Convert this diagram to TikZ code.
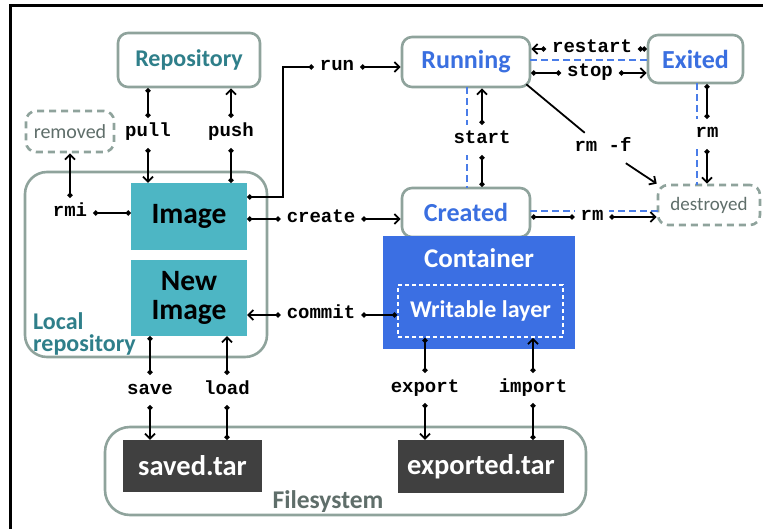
\documentclass[tikz,border=0pt]{standalone}
\usepackage{fontspec}
\setmainfont{Carlito}
\setmonofont{Liberation Mono}
\usetikzlibrary{arrows.meta,calc}
\definecolor{bordergray}{HTML}{8FA39C}
\definecolor{tealtext}{HTML}{2F7F8A}
\definecolor{bluetext}{HTML}{3A6FE0}
\definecolor{imgfill}{HTML}{4DB6C4}
\definecolor{contfill}{HTML}{3B6FE3}
\definecolor{darkbox}{HTML}{404040}
\definecolor{graytext}{HTML}{5F6E6A}
\definecolor{dashblue}{HTML}{4A7DE8}
\newcommand{\fs}[1]{\fontsize{#1}{#1}\selectfont}
\begin{document}
\begin{tikzpicture}[x=1pt,y=-1pt,
  statebox/.style={draw=bordergray,line width=2.6pt,rounded corners=10pt,fill=white,font=\fs{26}\bfseries,text=bluetext},
  gonebox/.style={draw=bordergray,line width=2.6pt,rounded corners=10pt,dash pattern=on 7pt off 5pt,fill=white,text=graytext},
  imgbox/.style={fill=imgfill,font=\fs{29.5}\bfseries,text=black,align=center,inner sep=0pt},
  tarbox/.style={fill=darkbox,font=\fs{28.5}\bfseries,text=white,inner sep=0pt},
  cmd/.style={fill=white,font=\fs{19}\ttfamily\bfseries,inner xsep=6pt,inner ysep=8pt,text height=11pt,text depth=3pt},
  seg/.style={line width=1.8pt,{Circle[length=5pt]}-{Circle[length=5pt]}},
  arr/.style={line width=1.8pt,{Circle[length=5pt]}-{Straight Barb[length=5pt,width=10pt]}},
  plainarr/.style={line width=1.8pt,-{Straight Barb[length=5pt,width=10pt]}},
  bdash/.style={draw=dashblue,line width=2.4pt,dash pattern=on 7pt off 4pt}
]
\useasboundingbox (0,0) rectangle (763,529);
% frame
\draw[line width=3pt] (10,529) -- (10,6) -- (763,6);
% group rectangles
\draw[draw=bordergray,line width=2.6pt,rounded corners=22pt] (25,172) rectangle (267,357);
\draw[draw=bordergray,line width=2.6pt,rounded corners=25pt] (105,427) rectangle (586,515);
\node[anchor=west,align=left,inner sep=0pt,font=\fontsize{24}{22}\selectfont\bfseries,text=tealtext] (localrepo) at (33,334) {Local\\repository};
\node[inner sep=0pt,font=\fs{25.5}\bfseries,text=graytext] (filesystem) at (328,502) {Filesystem};
% main nodes
\node[statebox,font=\fs{24}\bfseries,text=tealtext,minimum width=142pt,minimum height=54pt] (repo) at (189,60) {Repository};
\node[gonebox,font=\fs{20},minimum width=88pt,minimum height=41pt] (removed) at (70,131.5) {removed};
\node[imgbox,minimum width=116pt,minimum height=67pt] (image) at (189,216.5) {Image};
\node[imgbox,minimum width=116pt,minimum height=76pt] (newimage) at (189,298) {New\\[-1pt]Image};
\node[statebox,minimum width=128pt,minimum height=50pt] (running) at (466,62) {Running};
\node[statebox,minimum width=95pt,minimum height=48pt] (exited) at (695.5,59) {Exited};
\node[statebox,minimum width=128pt,minimum height=49pt] (created) at (466,212.5) {Created};
\node[gonebox,font=\fs{19},minimum width=102pt,minimum height=40pt] (destroyed) at (709,205) {destroyed};
\node[fill=contfill,minimum width=192pt,minimum height=113pt] (container) at (479,292.5) {};
\node[font=\fs{27}\bfseries,text=white,inner sep=0pt] (conttitle) at (479,258) {Container};
\node[draw=white,line width=1.8pt,dash pattern=on 4pt off 3pt,minimum width=165pt,minimum height=52pt,font=\fs{24}\bfseries,text=white] (writable) at (480.5,311) {Writable layer};
\node[tarbox,minimum width=139pt,minimum height=52pt] (savedtar) at (192.5,466) {saved.tar};
\node[tarbox,minimum width=166pt,minimum height=53pt] (exportedtar) at (481,466.5) {exported.tar};
% blue dashed lines (under labels)
\draw[bdash] (467,87) -- (467,188);
\draw[bdash] (697,83) -- (697,185);
\draw[bdash] (530,211) -- (658,211);
% command labels
\node[cmd] (pull) at (148,133) {pull};
\node[cmd] (push) at (231,133) {push};
\node[cmd] (rmi) at (70,213) {rmi};
\node[cmd] (run) at (337,67) {run};
\node[cmd] (create) at (321,219) {create};
\node[cmd] (commit) at (321,315) {commit};
\node[cmd] (save) at (150,390) {save};
\node[cmd] (load) at (227,390) {load};
\node[cmd] (export) at (425,388) {export};
\node[cmd] (import) at (533,388) {import};
\node[cmd] (restart) at (592,49) {restart};
\node[cmd] (stop) at (590,73) {stop};
\node[cmd] (start) at (482,140) {start};
\node[cmd] (rmf) at (603,148) {rm -f};
\node[cmd] (rmE) at (707,134) {rm};
\node[cmd] (rmC) at (592,217) {rm};
% connectors
\draw[seg] (repo.south -| pull) -- (pull.north);
\draw[arr] (pull.south) -- (image.north -| pull);
\draw[seg] (image.north -| push) -- (push.south);
\draw[arr] (push.north) -- (repo.south -| push);
\draw[seg] (rmi.east -| image.west) -- (rmi.east);
\draw[arr] (rmi.north) -- (removed.south -| rmi);
\draw[seg] ([yshift=19.5pt]image.east) -- ++(36,0) |- (run.west);
\draw[arr] (run.east) -- (run.east -| running.west);
\draw[seg] (create.west -| image.east) -- (create.west);
\draw[arr] (create.east) -- (create.east -| created.west);
\draw[seg] (commit.east -| writable.west) -- (commit.east);
\draw[arr] (commit.west) -- (commit.west -| newimage.east);
\draw[seg] (newimage.south -| save) -- (save.north);
\draw[arr] (save.south) -- (savedtar.north -| save);
\draw[seg] (savedtar.north -| load) -- (load.south);
\draw[arr] (load.north) -- (newimage.south -| load);
\draw[seg] (writable.south -| export) -- (export.north);
\draw[arr] (export.south) -- (exportedtar.north -| export);
\draw[seg] (exportedtar.north -| import) -- (import.south);
\draw[arr] (import.north) -- (writable.south -| import);
\draw[seg] (restart.east -| exited.west) -- (restart.east);
\draw[arr] (restart.west) -- (restart.west -| running.east);
\draw[seg] (stop.west -| running.east) -- (stop.west);
\draw[arr] (stop.east) -- (stop.east -| exited.west);
\draw[seg] (created.north -| start) -- (start.south);
\draw[arr] (start.north) -- (running.south -| start);
\draw[line width=1.8pt] ([xshift=-5pt,yshift=4pt]running.south east) -- (rmf);
\draw[plainarr] (rmf) -- (destroyed.north west);
\draw[seg] (exited.south -| rmE) -- (rmE.north);
\draw[arr] (rmE.south) -- (destroyed.north -| rmE);
\draw[seg] (rmC.west -| created.east) -- (rmC.west);
\draw[arr] (rmC.east) -- (rmC.east -| destroyed.west);
% dashed line between Running and Exited (over labels)
\draw[bdash] (530,60) -- (648,60);
\end{tikzpicture}
\end{document}
